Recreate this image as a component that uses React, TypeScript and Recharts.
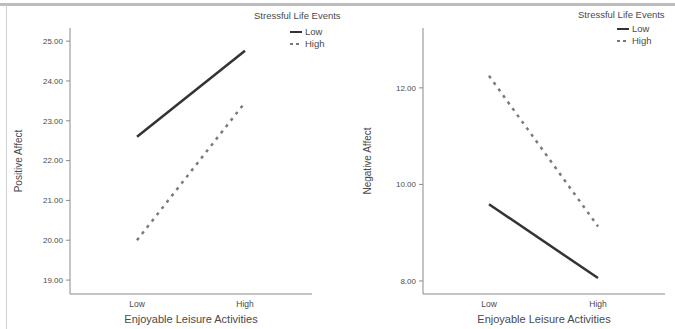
import React from 'react';
import { LineChart, Line, XAxis, YAxis } from 'recharts';

const categories = ['Low', 'High'];
const posLow = [22.6, 24.76];
const posHigh = [20.0, 23.46];
const negLow = [9.59, 8.06];
const negHigh = [12.25, 9.13];
const posTicks = [19, 20, 21, 22, 23, 24, 25];
const negTicks = [8, 10, 12];
const legendTitle = 'Stressful Life Events';
const legendItems = ['Low', 'High'];

const posData = categories.map((c, i) => ({ cat: c, low: posLow[i], high: posHigh[i] }));
const negData = categories.map((c, i) => ({ cat: c, low: negLow[i], high: negHigh[i] }));

const FONT = '"Liberation Sans", Arial, sans-serif';
const AX = '#8a8a8a';
const TXT = '#4a4a4a';

function Legend({ left, top, indent, gap }: { left: number; top: number; indent: number; gap: number }) {
  return (
    <div style={{ position: 'absolute', left, top, fontFamily: FONT, color: TXT, fontSize: 9.5, lineHeight: '12px', whiteSpace: 'nowrap' }}>
      <div style={{ marginBottom: gap }}>{legendTitle}</div>
      {legendItems.map((it, i) => (
        <div key={it} style={{ display: 'flex', alignItems: 'center', paddingLeft: indent, height: 12 }}>
          <svg width={12} height={6} style={{ marginRight: 3 }}>
            <line x1={0} y1={3} x2={12} y2={3} stroke={i === 0 ? '#333' : '#777'} strokeWidth={2} strokeDasharray={i === 0 ? undefined : '3 3'} />
          </svg>
          <span>{it}</span>
        </div>
      ))}
    </div>
  );
}

const tickStyle = { fontSize: 8, fill: TXT, fontFamily: FONT };

export default function App() {
  return (
    <div style={{ position: 'fixed', left: 0, top: 0, width: 675, height: 329, background: '#fff', overflow: 'hidden' }}>
      <div style={{ position: 'absolute', left: 0, top: 3, width: 675, height: 3, background: '#bdbdbd' }} />
      <div style={{ position: 'absolute', left: 6, top: 5, width: 1, height: 324, background: '#cfcfcf' }} />
      <div style={{ position: 'absolute', left: 0, top: 0 }}>
        <LineChart width={340} height={329} data={posData} margin={{ top: 28, right: 28, bottom: 0, left: 0 }}>
          <XAxis dataKey="cat" padding={{ left: 67, right: 67 }} height={35} stroke={AX} tickLine={false} tick={{ ...tickStyle, fontSize: 8.5 }} tickMargin={1}
            label={{ value: 'Enjoyable Leisure Activities', position: 'insideBottom', offset: 6, style: { fontSize: 11, fill: TXT, fontFamily: FONT } }} />
          <YAxis width={70} domain={[18.65, 25.33]} ticks={posTicks} type="number" stroke={AX} tickSize={4} tickMargin={3}
            tick={tickStyle} tickFormatter={(v: number) => v.toFixed(2)} allowDataOverflow
            label={{ value: 'Positive Affect', angle: -90, position: 'insideLeft', offset: 18, style: { textAnchor: 'middle', fontSize: 10, fill: TXT, fontFamily: FONT } }} />
          <Line dataKey="low" stroke="#333" strokeWidth={2.5} dot={false} isAnimationActive={false} />
          <Line dataKey="high" stroke="#7a7a7a" strokeWidth={2.5} strokeDasharray="3 5" dot={false} isAnimationActive={false} />
        </LineChart>
      </div>
      <div style={{ position: 'absolute', left: 340, top: 0 }}>
        <LineChart width={335} height={329} data={negData} margin={{ top: 28, right: 10, bottom: 0, left: 0 }}>
          <XAxis dataKey="cat" padding={{ left: 66, right: 67 }} height={35} stroke={AX} tickLine={false} tick={{ ...tickStyle, fontSize: 8.5 }} tickMargin={1}
            label={{ value: 'Enjoyable Leisure Activities', position: 'insideBottom', offset: 6, style: { fontSize: 11, fill: TXT, fontFamily: FONT } }} />
          <YAxis width={83} domain={[7.73, 13.24]} ticks={negTicks} type="number" stroke={AX} tickSize={4} tickMargin={3}
            tick={tickStyle} tickFormatter={(v: number) => v.toFixed(2)} allowDataOverflow
            label={{ value: 'Negative Affect', angle: -90, position: 'insideLeft', offset: 27, style: { textAnchor: 'middle', fontSize: 10, fill: TXT, fontFamily: FONT } }} />
          <Line dataKey="low" stroke="#333" strokeWidth={2.5} dot={false} isAnimationActive={false} />
          <Line dataKey="high" stroke="#7a7a7a" strokeWidth={2.5} strokeDasharray="3 5" dot={false} isAnimationActive={false} />
        </LineChart>
      </div>
      <Legend left={254} top={10} indent={36} gap={4} />
      <Legend left={578} top={9} indent={39} gap={2} />
    </div>
  );
}
